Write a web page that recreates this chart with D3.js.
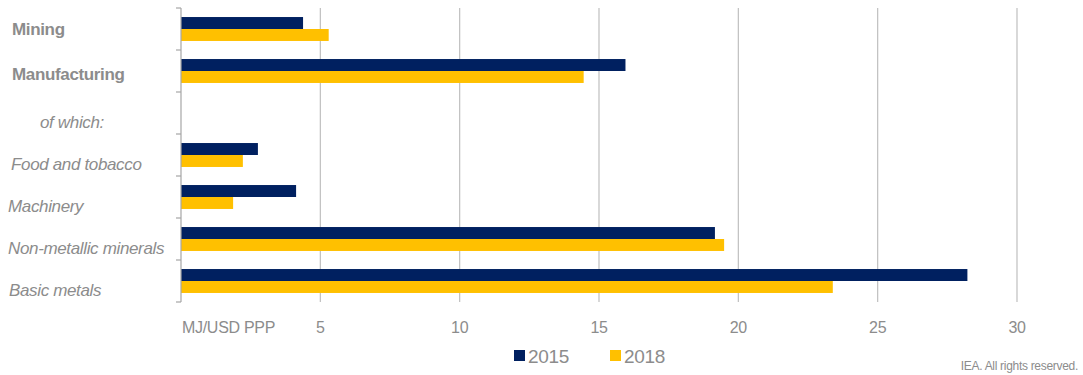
<!DOCTYPE html>
<html>
<head>
<meta charset="utf-8">
<script src="https://cdn.jsdelivr.net/npm/d3@7"></script>
<style>
  html, body { margin: 0; padding: 0; background: #ffffff; }
  svg { display: block; font-family: "Liberation Sans", Arial, sans-serif; }
</style>
</head>
<body>
<svg id="chart" width="1083" height="375"></svg>
<script>
// Energy intensity of industry sub-sectors (MJ per USD PPP)
const categories = ["Mining", "Manufacturing", "of which:", "Food and tobacco", "Machinery", "Non-metallic minerals", "Basic metals"];
const boldCats = ["Mining", "Manufacturing"];
const values2015 = [4.38, 15.95, null, 2.76, 4.13, 19.16, 28.22];
const values2018 = [5.3, 14.45, null, 2.22, 1.87, 19.49, 23.39];
const seriesNames = ["2015", "2018"];
const xTicks = [0, 5, 10, 15, 20, 25, 30];
const unitLabel = "MJ/USD PPP";

const colors = { "2015": "#002060", "2018": "#ffc000" };
const svg = d3.select("#chart");

const x = d3.scaleLinear().domain([0, 30]).range([181, 1017]);
const y = d3.scaleBand().domain(categories).range([8, 302]).paddingInner(0.43).paddingOuter(0.215);
const ySub = d3.scaleBand().domain(seriesNames).range([0, y.bandwidth()]);
const yOuter = d3.scaleBand().domain(categories).range([8, 302]).padding(0);

// vertical gridlines
svg.append("g").selectAll("line")
  .data(xTicks.filter(d => d > 0))
  .join("line")
  .attr("x1", d => x(d)).attr("x2", d => x(d))
  .attr("y1", 8).attr("y2", 302)
  .attr("stroke", "#bfbfbf").attr("stroke-width", 1.2);

// bars
const rows = categories.map((c, i) => ({ cat: c, vals: [values2015[i], values2018[i]] }));
const g = svg.append("g");
rows.forEach(r => {
  r.vals.forEach((v, j) => {
    if (v == null) return;
    g.append("rect")
      .attr("x", x(0))
      .attr("y", y(r.cat) + ySub(seriesNames[j]))
      .attr("width", x(v) - x(0))
      .attr("height", ySub.bandwidth())
      .attr("fill", colors[seriesNames[j]]);
  });
});

// left axis with ticks between categories
const leftAxis = svg.append("g");
leftAxis.append("line")
  .attr("x1", 181).attr("x2", 181).attr("y1", 8).attr("y2", 302)
  .attr("stroke", "#a6a6a6").attr("stroke-width", 1.2);
const boundaries = categories.map(c => yOuter(c)).concat([302]);
leftAxis.selectAll("line.tk").data(boundaries).join("line")
  .attr("class", "tk")
  .attr("x1", 176).attr("x2", 181)
  .attr("y1", d => d).attr("y2", d => d)
  .attr("stroke", "#a6a6a6").attr("stroke-width", 1.2);

// category labels: bold headings sit near the bar centre, italic sub-items a little lower
const labelX = { "Mining": 12, "Manufacturing": 12, "of which:": 40, "Food and tobacco": 11, "Basic metals": 9 };
const labelDy = { "Mining": 6, "Manufacturing": 9 };
svg.append("g").selectAll("text")
  .data(categories)
  .join("text")
  .attr("x", d => labelX[d] !== undefined ? labelX[d] : 8)
  .attr("y", d => yOuter(d) + yOuter.bandwidth() / 2 + (labelDy[d] !== undefined ? labelDy[d] : 15))
  .attr("fill", "#8c8c8c")
  .attr("font-size", 17)
  .attr("font-weight", d => boldCats.includes(d) ? "bold" : "normal")
  .attr("font-style", d => boldCats.includes(d) ? "normal" : "italic")
  .attr("letter-spacing", -0.35)
  .text(d => d);

// x tick labels
svg.append("g").selectAll("text")
  .data(xTicks)
  .join("text")
  .attr("x", d => d === 0 ? 182 : x(d))
  .attr("y", 333)
  .attr("text-anchor", d => d === 0 ? "start" : "middle")
  .attr("fill", "#8c8c8c")
  .attr("font-size", 16)
  .attr("letter-spacing", -0.3)
  .text(d => d === 0 ? unitLabel : d);

// legend
const legend = svg.append("g");
const legendX = [514, 610];
seriesNames.forEach((s, i) => {
  legend.append("rect")
    .attr("x", legendX[i]).attr("y", 350)
    .attr("width", 11).attr("height", 11)
    .attr("fill", colors[s]);
  legend.append("text")
    .attr("x", legendX[i] + 14).attr("y", 363)
    .attr("fill", "#8c8c8c")
    .attr("font-size", 19)
    .attr("letter-spacing", -0.3)
    .text(s);
});

// source note
svg.append("text")
  .attr("x", 1078).attr("y", 370)
  .attr("text-anchor", "end")
  .attr("fill", "#8c8c8c")
  .attr("font-size", 12)
  .attr("letter-spacing", -0.3)
  .text("IEA. All rights reserved.");
</script>
</body>
</html>
